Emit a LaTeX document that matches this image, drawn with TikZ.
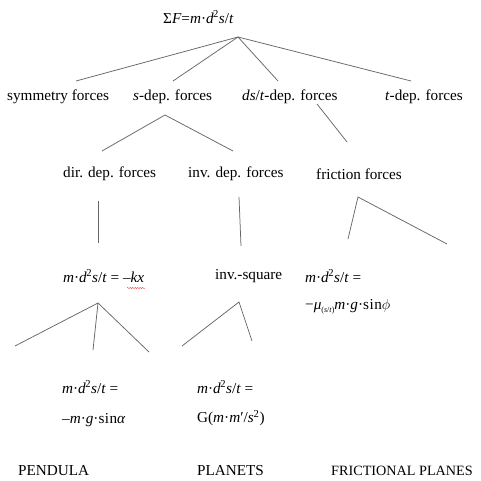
\documentclass[tikz,border=0pt]{standalone}
\usepackage{fontspec}
\setmainfont{Liberation Serif}
\usetikzlibrary{decorations.pathmorphing}
\begin{document}
\begin{tikzpicture}[x=1pt,y=-1pt,
  lbl/.style={anchor=west,inner sep=0pt,font=\fontsize{15.2}{18}\selectfont},
  edge/.style={draw=black!60,line width=0.75pt}]
\useasboundingbox (0,0) rectangle (481,481);
\newcommand{\mi}[1]{\textit{#1}}
\newcommand{\sqd}{\textsuperscript{\kern-0.05em 2}}
% texts
\node[lbl] (root) at (163,17) {Σ\mi{F}=\mi{m}·\mi{d}\sqd\mi{s}/\mi{t}};
\node[lbl] (sym) at (7,97) {symmetry forces};
\node[lbl] (sdep) at (133,97) {\mi{s}-dep. forces};
\node[lbl] (dsdep) at (242,97) {\mi{ds}/\mi{t}-dep. forces};
\node[lbl] (tdep) at (385,97) {\mi{t}-dep. forces};
\node[lbl] (dir) at (63,174) {dir. dep. forces};
\node[lbl] (inv) at (188,174) {inv. dep. forces};
\node[lbl] (fric) at (316,174) {friction forces};
\node[lbl] (hooke) at (63,276) {\mi{m}·\mi{d}\sqd\mi{s}/\mi{t} = –\mi{kx}};
\node[lbl] (invsq) at (215,276) {inv.-square};
\node[lbl] (fr1) at (305,276) {\mi{m}·\mi{d}\sqd\mi{s}/\mi{t} =};
\node[lbl] (fr2) at (305,307) {−\mi{μ}\raisebox{-0.5ex}{\footnotesize(\mi{s}/\mi{t})}\mi{m}·\mi{g}·s\kern0.5pt i\kern0.5pt n$\phi$};
\node[lbl] (pe1) at (62,387) {\mi{m}·\mi{d}\sqd\mi{s}/\mi{t} =};
\node[lbl] (pe2) at (62,420) {–\mi{m}·\mi{g}·s\kern0.5pt i\kern0.5pt n\mi{α}};
\node[lbl] (pl1) at (197,387) {\mi{m}·\mi{d}\sqd\mi{s}/\mi{t} =};
\node[lbl] (pl2) at (197,418) {G(\mi{m}·\mi{m}′/\mi{s}\textsuperscript{2})};
\node[lbl] (pend) at (18,471) {PENDULA};
\node[lbl] (plan) at (197,471) {PLANETS};
\node[lbl,font=\fontsize{14.2}{17}\selectfont] (fpl) at (331,471) {FRICTIONAL PLANES};
% spell-check squiggle
\coordinate (sqa) at (127,288); \coordinate (sqb) at (145,288);
\draw[red!80,line width=0.4pt,decorate,decoration={snake,amplitude=0.6pt,segment length=2.5pt}] (sqa) -- (sqb);
% line coordinates
\coordinate (a0) at (238,37);
\coordinate (a1) at (76,81); \coordinate (a2) at (173,81);
\coordinate (a3) at (278,81); \coordinate (a4) at (411,81);
\coordinate (b0) at (165,115); \coordinate (b1) at (102,151); \coordinate (b2) at (233,151);
\coordinate (c0) at (317,104); \coordinate (c1) at (347,142);
\coordinate (d0) at (98,201); \coordinate (d1) at (98,243);
\coordinate (e0) at (239,197); \coordinate (e1) at (241,246);
\coordinate (f0) at (358,197); \coordinate (f1) at (348,239); \coordinate (f2) at (447,244);
\coordinate (g0) at (98,303); \coordinate (g1) at (15,346); \coordinate (g2) at (93,350); \coordinate (g3) at (149,352);
\coordinate (h0) at (239,302); \coordinate (h1) at (182,346); \coordinate (h2) at (252,341);
% lines
\draw[edge] (a1) -- (a0) -- (a4);
\draw[edge] (a2) -- (a0) -- (a3);
\draw[edge] (b1) -- (b0) -- (b2);
\draw[edge] (c0) -- (c1);
\draw[edge] (d0) -- (d1);
\draw[edge] (e0) -- (e1);
\draw[edge] (f1) -- (f0) -- (f2);
\draw[edge] (g1) -- (g0) -- (g3);
\draw[edge] (g0) -- (g2);
\draw[edge] (h1) -- (h0) -- (h2);
\end{tikzpicture}
\end{document}
